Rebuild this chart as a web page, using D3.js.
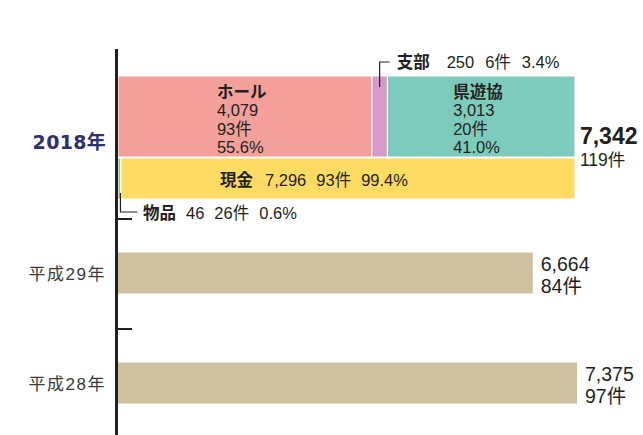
<!DOCTYPE html>
<html><head><meta charset="utf-8">
<script src="https://cdn.jsdelivr.net/npm/d3@7/dist/d3.min.js"></script>
<style>
html,body{margin:0;padding:0;background:#fff;}
text{font-family:"Liberation Sans",Arial,"Noto Sans CJK JP",sans-serif;fill:#231f20;}
</style></head>
<body>
<svg id="chart" width="643" height="435"></svg>
<script>
// ---- data ----
const categories = ["2018年", "平成29年", "平成28年"];
const totals = [7342, 6664, 7375];
const totalCounts = [119, 84, 97];
// 2018 breakdown by recipient
const recipNames = ["ホール", "支部", "県遊協"];
const recipValues = [4079, 250, 3013];
const recipCounts = [93, 6, 20];
const recipPct = [55.6, 3.4, 41.0];
// 2018 breakdown by type
const typeNames = ["物品", "現金"];
const typeValues = [46, 7296];
const typeCounts = [26, 93];
const typePct = [0.6, 99.4];

const recipColors = ["#f4a09a", "#d69bc8", "#7ccbbd"];
const typeColors = ["#8dc86a", "#fedb63"];
const pastColor = "#cdc19f";

const svg = d3.select("#chart");
const fmt = d3.format(",");

const x = d3.scaleLinear().domain([0, 7375]).range([118, 577]);
const y = d3.scaleBand().domain(categories).range([109, 439]).padding(0);

// ---- 2018 stacked bars ----
let acc = 0;
const recipSegs = recipValues.map((v, i) => { const s = {i, x0: acc, x1: acc + v}; acc += v; return s; });
acc = 0;
const typeSegs = typeValues.map((v, i) => { const s = {i, x0: acc, x1: acc + v}; acc += v; return s; });

const y18 = y(categories[0]);
const topY = y18 - 33, topH = 81;
const botY = y18 + 49, botH = 41;

svg.append("g").selectAll("rect").data(recipSegs).join("rect")
  .attr("x", d => x(d.x0)).attr("y", topY)
  .attr("width", d => x(d.x1) - x(d.x0)).attr("height", topH)
  .attr("fill", d => recipColors[d.i]).attr("stroke", "#fff").attr("stroke-width", 1);

svg.append("g").selectAll("rect").data(typeSegs).join("rect")
  .attr("x", d => x(d.x0)).attr("y", botY)
  .attr("width", d => x(d.x1) - x(d.x0)).attr("height", botH)
  .attr("fill", d => typeColors[d.i]).attr("stroke", "#fff").attr("stroke-width", 1);

// past years bars
const past = categories.slice(1).map((c, k) => ({c, v: totals[k + 1], n: totalCounts[k + 1]}));
svg.append("g").selectAll("rect").data(past).join("rect")
  .attr("x", x(0)).attr("y", d => y(d.c) + 33.5)
  .attr("width", d => x(d.v) - x(0)).attr("height", 41)
  .attr("fill", pastColor);

// ---- axis ----
svg.append("line").attr("x1", 116.5).attr("x2", 116.5).attr("y1", 49).attr("y2", 435)
  .attr("stroke", "#231f20").attr("stroke-width", 3);
svg.append("g").selectAll("line").data(categories.slice(1)).join("line")
  .attr("x1", 116).attr("x2", 132).attr("y1", d => y(d)).attr("y2", d => y(d))
  .attr("stroke", "#231f20").attr("stroke-width", 2);

// ---- inside labels for pink & teal ----
[0, 2].forEach(i => {
  const s = recipSegs[i];
  const cx = (x(s.x0) + x(s.x1)) / 2 - 28;
  const t = svg.append("text").attr("x", cx).attr("y", topY + 22).style("font-size", "16.5px");
  t.append("tspan").attr("x", cx).attr("dy", 0).style("font-weight", "bold")
    .style("font-family", "'Noto Sans CJK JP',sans-serif").text(recipNames[i]);
  [fmt(recipValues[i]), recipCounts[i] + "件", recipPct[i].toFixed(1) + "%"].forEach(str => {
    t.append("tspan").attr("x", cx).attr("dy", 18.3).text(str);
  });
});

// ---- 支部 callout ----
const ps = recipSegs[1];
const pcx = (x(ps.x0) + x(ps.x1)) / 2;
svg.append("path").attr("d", `M${pcx},${topY + 11}V62H${pcx + 10}`)
  .attr("fill", "none").attr("stroke", "#231f20").attr("stroke-width", 1.2);
function inlineLabel(xp, yp, name, parts, gaps) {
  const t = svg.append("text").attr("x", xp).attr("y", yp).style("font-size", "16.5px");
  t.append("tspan").style("font-weight", "bold").style("font-family", "'Noto Sans CJK JP',sans-serif").text(name);
  parts.forEach((p, k) => t.append("tspan").attr("dx", gaps[k]).text(p));
}
inlineLabel(pcx + 17, 68, recipNames[1],
  [String(recipValues[1]), recipCounts[1] + "件", recipPct[1].toFixed(1) + "%"], [17, 11, 11]);

// ---- 現金 label ----
inlineLabel(220, botY + 28, typeNames[1],
  [fmt(typeValues[1]), typeCounts[1] + "件", typePct[1].toFixed(1) + "%"], [12, 10, 10]);

// ---- 物品 callout ----
const gs = typeSegs[0];
const gcx = (x(gs.x0) + x(gs.x1)) / 2 + 1;
svg.append("path").attr("d", `M${gcx},${botY + 35}V212H${gcx + 17}`)
  .attr("fill", "none").attr("stroke", "#231f20").attr("stroke-width", 1.2);
inlineLabel(143, 219, typeNames[0],
  [String(typeValues[0]), typeCounts[0] + "件", typePct[0].toFixed(1) + "%"], [10, 10, 10]);

// ---- totals ----
svg.append("text").attr("x", x(totals[0]) + 5).attr("y", 144)
  .style("font-size", "23px").style("font-weight", "bold").text(fmt(totals[0]));
svg.append("text").attr("x", x(totals[0]) + 5).attr("y", 166)
  .style("font-size", "17.5px").text(totalCounts[0] + "件");
past.forEach(d => {
  const yy = y(d.c) + 33.5;
  svg.append("text").attr("x", x(d.v) + 8).attr("y", yy + 18)
    .style("font-size", "19.5px").text(fmt(d.v));
  svg.append("text").attr("x", x(d.v) + 8).attr("y", yy + 40)
    .style("font-size", "19.5px").text(d.n + "件");
});

// ---- category labels ----
svg.append("text").attr("x", 106).attr("y", 149).attr("text-anchor", "end")
  .style("font-family", "'DejaVu Sans','Noto Sans CJK JP',sans-serif")
  .style("font-size", "19px").style("font-weight", "bold").style("letter-spacing", "0.3px")
  .style("fill", "#2e316f").text(categories[0]);
past.forEach(d => {
  svg.append("text").attr("x", 106).attr("y", y(d.c) + 33.5 + 27).attr("text-anchor", "end")
    .style("font-size", "17px").style("letter-spacing", "1.5px").style("fill", "#3a3a3a").text(d.c);
});
</script>
</body></html>
